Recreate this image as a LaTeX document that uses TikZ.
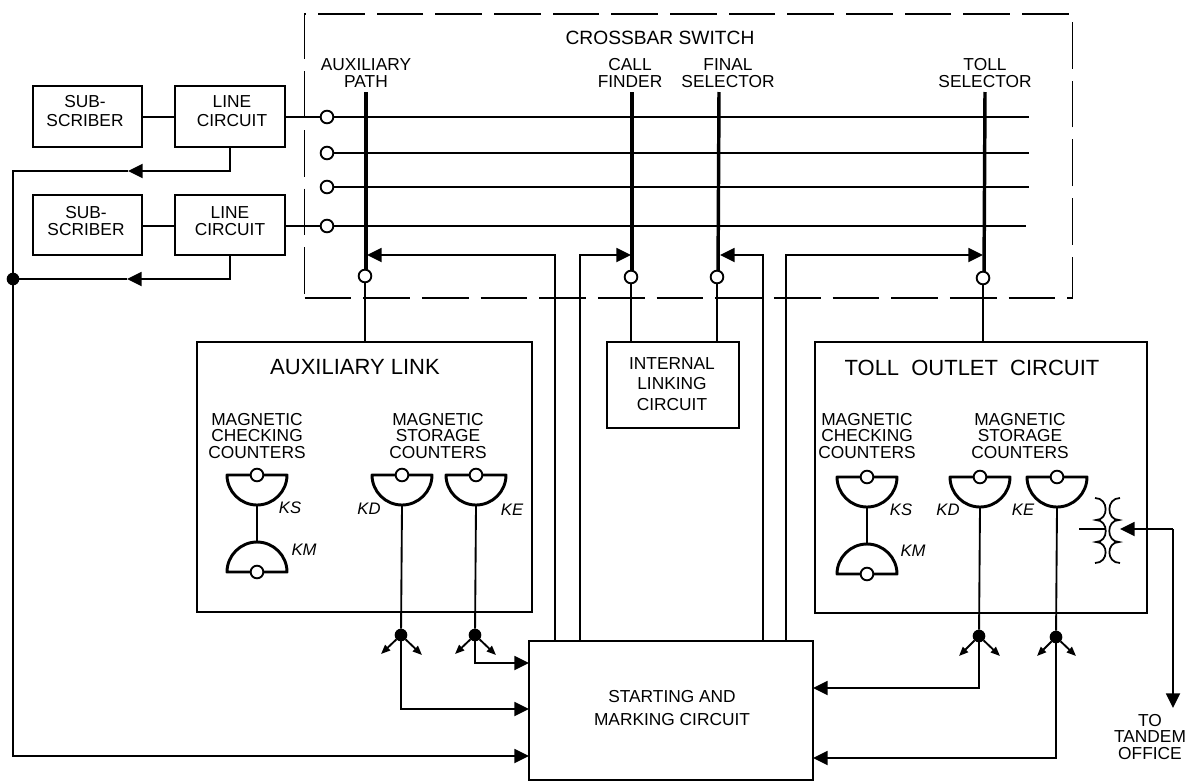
\documentclass[tikz,border=0pt]{standalone}
\usepackage{fontspec}
\setmainfont{Liberation Sans}
\usetikzlibrary{arrows.meta}
\tikzset{
  box/.style={draw,line width=1.5pt,inner sep=0pt,outer sep=0pt},
  dashbox/.style={draw,line width=1.3pt,inner sep=0pt,outer sep=0pt,dash pattern=on 35pt off 9pt},
  ring/.style={circle,draw,fill=white,line width=1.4pt,minimum size=9.5pt,inner sep=0pt,outer sep=0pt},
  dot/.style={circle,fill=black,minimum size=9.5pt,inner sep=0pt,outer sep=0pt},
  wire/.style={line width=1.4pt},
  bus/.style={line width=2pt},
  thinbus/.style={line width=1.5pt},
  post/.style={line width=2.6pt},
  coil/.style={line width=1.3pt},
  arr/.style={line width=1.4pt,-{Triangle[length=11pt,width=10.5pt]}},
  tinyarr/.style={line width=1.4pt,-{Triangle[length=7pt,width=5.5pt]}},
  lab/.style={align=center,inner sep=0pt,font=\fontsize{13}{12.4}\selectfont},
  boxlab/.style={align=center,inner sep=0pt,font=\fontsize{13}{14}\selectfont},
  biglab/.style={inner sep=0pt,font=\fontsize{16.5}{20}\selectfont},
  klab/.style={inner sep=0pt,font=\itshape\fontsize{12.5}{14}\selectfont},
}
% half-disc counter: #1 name, #2 x, #3 y, #4 = 1 bowl below the flat, -1 bowl above
\newcommand{\countershape}[4]{%
  \begin{scope}[shift={(#2,#3)},yscale=#4]
    \draw[line width=2.2pt,line cap=round,line join=round] (-30,0) -- (30,0)
      .. controls (30,16.5) and (16.5,30) .. (0,30)
      .. controls (-16.5,30) and (-30,16.5) .. (-30,0) -- cycle;
    \coordinate (#1tip) at (0,30);
  \end{scope}
  \node[ring] (#1ring) at (#2,#3) {};
}
\begin{document}
\begin{tikzpicture}[x=0.75pt,y=-0.75pt]
\useasboundingbox (0,0) rectangle (1187,782);

% boxes
\node[dashbox,minimum width=576pt,minimum height=213pt] (switch) at (688.5,156) {};
\node[box,minimum width=82pt,minimum height=46pt] (sub1) at (87.5,116.5) {};
\node[box,minimum width=82pt,minimum height=46pt] (lc1) at (230,116.5) {};
\node[box,minimum width=82pt,minimum height=45pt] (sub2) at (87.5,225) {};
\node[box,minimum width=82pt,minimum height=45pt] (lc2) at (230,225) {};
\node[box,minimum width=251pt,minimum height=202.5pt] (aux) at (364.5,477) {};
\node[box,minimum width=99pt,minimum height=64.5pt] (ilc) at (673,385) {};
\node[box,minimum width=249pt,minimum height=203pt] (toll) at (981,477.5) {};
\node[box,minimum width=213pt,minimum height=104pt] (start) at (671,710.5) {};

% texts
\node[font=\fontsize{14.4}{16}\selectfont,inner sep=0pt] (tswitch) at (660,38) {CROSSBAR SWITCH};
\node[boxlab] (tsub1) at (85,111) {SUB-\\SCRIBER};
\node[boxlab] (tlc1) at (232,111) {LINE\\CIRCUIT};
\node[lab] (tsub2) at (86,221) {SUB-\\SCRIBER};
\node[lab] (tlc2) at (230,221) {LINE\\CIRCUIT};
\node[lab] (tauxp) at (366,73) {AUXILIARY\\PATH};
\node[lab] (tcall) at (630,73) {CALL\\FINDER};
\node[lab] (tfin) at (728,73) {FINAL\\SELECTOR};
\node[lab] (ttsel) at (985,73) {TOLL\\SELECTOR};
\node[biglab] (taux) at (355,367) {AUXILIARY LINK};
\node[biglab] (ttoll) at (972,368) {\spaceskip=0.55em TOLL OUTLET CIRCUIT};
\node[lab] (tcc1) at (257,436) {MAGNETIC\\CHECKING\\COUNTERS};
\node[lab] (tsc1) at (438,436) {MAGNETIC\\STORAGE\\COUNTERS};
\node[lab] (tcc2) at (867,436) {MAGNETIC\\CHECKING\\COUNTERS};
\node[lab] (tsc2) at (1020,436) {MAGNETIC\\STORAGE\\COUNTERS};
\node[align=center,inner sep=0pt,font=\fontsize{13}{15.5}\selectfont] (tilc) at (672,384) {INTERNAL\\LINKING\\CIRCUIT};
\node[align=center,inner sep=0pt,font=\fontsize{13}{17}\selectfont] (tstart) at (672,708) {STARTING AND\\MARKING CIRCUIT};
\node[lab] (ttand) at (1150,737) {TO\\TANDEM\\OFFICE};
\node[klab] (ks1) at (290,508) {KS};
\node[klab] (km1) at (304,550) {KM};
\node[klab] (kd1) at (369,509) {KD};
\node[klab] (ke1) at (512,510) {KE};
\node[klab] (ks2) at (901,510) {KS};
\node[klab] (km2) at (913,551) {KM};
\node[klab] (kd2) at (948,510) {KD};
\node[klab] (ke2) at (1023,510) {KE};

% named wire ends
\coordinate (e1) at (1029,117);
\coordinate (e2) at (1029,153);
\coordinate (e3) at (1029,187);
\coordinate (e4) at (1026,226);
\coordinate (t1) at (366,92);
\coordinate (t2) at (632,92);
\coordinate (t3) at (719,92);
\coordinate (t4) at (985,92);

% subscriber lines and crossbar
\draw[wire] (sub1.east |- 0,117) -- (lc1.west |- 0,117);
\draw[wire] (sub2.east |- 0,226) -- (lc2.west |- 0,226);
\draw[wire] (lc1.east |- 0,117) -- (327,117);
\draw[bus] (lc2.east |- 0,226) -- (327,226);
\draw[bus] (327,117) -- (e1);
\draw[thinbus] (327,153) -- (e2);
\draw[bus] (327,187) -- (e3);
\draw[bus] (327,226) -- (e4);
\draw[post] (t1) -- (366,276);
\draw[post] (t2) -- (632,277);
\draw[post] (t3) -- (718,277);
\draw[post] (t4) -- (984,277);
\node[ring] (r1) at (327,117) {};
\node[ring] (r2) at (327,153) {};
\node[ring] (r3) at (327,187) {};
\node[ring] (r4) at (327,226) {};
\node[ring] (p1) at (365,276) {};
\node[ring] (p2) at (631,277) {};
\node[ring] (p3) at (717,277) {};
\node[ring] (p4) at (983,278) {};
\draw[wire] (p1) -- (aux.north -| p1);
\draw[wire] (p2) -- (ilc.north -| p2);
\draw[wire] (p3) -- (ilc.north -| p3);
\draw[wire] (p4) -- (toll.north -| p4);

% control paths from the marking circuit to the switch
\coordinate (a1) at (367,255);
\coordinate (a2) at (631,255);
\coordinate (a3) at (720,255);
\coordinate (a4) at (983,255);
\draw[arr] (start.north -| 555,0) |- (a1);
\draw[arr] (start.north -| 580,0) |- (a2);
\draw[arr] (start.north -| 763,0) |- (a3);
\draw[arr] (start.north -| 786,0) |- (a4);

% line circuits to the marking circuit
\coordinate (m1) at (128,171);
\coordinate (m2) at (127,279);
\coordinate (c1) at (13,171);
\node[dot] (jn) at (13,279) {};
\coordinate (q1) at (529,756);
\draw[arr] (lc1.south) |- (m1);
\draw[wire] (m1) -- (c1) -- (jn);
\draw[arr] (lc2.south) |- (m2);
\draw[wire] (m2) -- (jn);
\draw[arr] (jn) |- (q1);

% auxiliary link counters
\countershape{ks}{257}{475}{1}
\countershape{km}{257}{572}{-1}
\countershape{kd}{402}{475}{1}
\countershape{ke}{476}{475}{1}
\draw[wire] (kstip) -- (kmtip);
\node[dot] (d1) at (401,635) {};
\node[dot] (d2) at (475,635) {};
\draw[wire] (kdtip) -- (d1);
\draw[wire] (ketip) -- (d2);
\coordinate (d1l) at (381,654);
\coordinate (d1r) at (422,655);
\coordinate (d2l) at (455,654);
\coordinate (d2r) at (496,655);
\draw[tinyarr] (d1) -- (d1l);
\draw[tinyarr] (d1) -- (d1r);
\draw[tinyarr] (d2) -- (d2l);
\draw[tinyarr] (d2) -- (d2r);
\draw[arr] (d1) |- (start.west |- 0,709);
\draw[arr] (d2) |- (start.west |- 0,663);

% toll outlet counters
\countershape{ksb}{867}{477}{1}
\countershape{kmb}{867}{574}{-1}
\countershape{kdb}{980}{477}{1}
\countershape{keb}{1057}{477}{1}
\draw[wire] (ksbtip) -- (kmbtip);
\node[dot] (d3) at (979,636) {};
\node[dot] (d4) at (1056,637) {};
\draw[wire] (kdbtip) -- (d3);
\draw[wire] (kebtip) -- (d4);
\coordinate (d3l) at (959,656);
\coordinate (d3r) at (1000,656);
\coordinate (d4l) at (1037,656);
\coordinate (d4r) at (1076,656);
\draw[tinyarr] (d3) -- (d3l);
\draw[tinyarr] (d3) -- (d3r);
\draw[tinyarr] (d4) -- (d4l);
\draw[tinyarr] (d4) -- (d4r);
\draw[arr] (d3) |- (start.east |- 0,688);
\draw[arr] (d4) |- (start.east |- 0,758);

% transformer
\coordinate (xin) at (1079,529);
\coordinate (xcore) at (1105,529);
\coordinate (xout) at (1120,529);
\coordinate (xbr) at (1173,529);
\coordinate (xdn) at (1173,708);
\draw[coil] (1095,498) .. controls (1109,498) and (1109,520) .. (1096,520)
   .. controls (1109,520) and (1109,542) .. (1096,542)
   .. controls (1109,542) and (1109,563) .. (1095,563);
\draw[coil] (1120,498) .. controls (1106,498) and (1106,520) .. (1119,520)
   .. controls (1106,520) and (1106,542) .. (1119,542)
   .. controls (1106,542) and (1106,563) .. (1120,563);
\draw[wire] (xin) -- (xcore);
\draw[arr] (xbr) -- (xout);
\draw[arr] (xbr) -- (xdn);
\end{tikzpicture}
\end{document}
